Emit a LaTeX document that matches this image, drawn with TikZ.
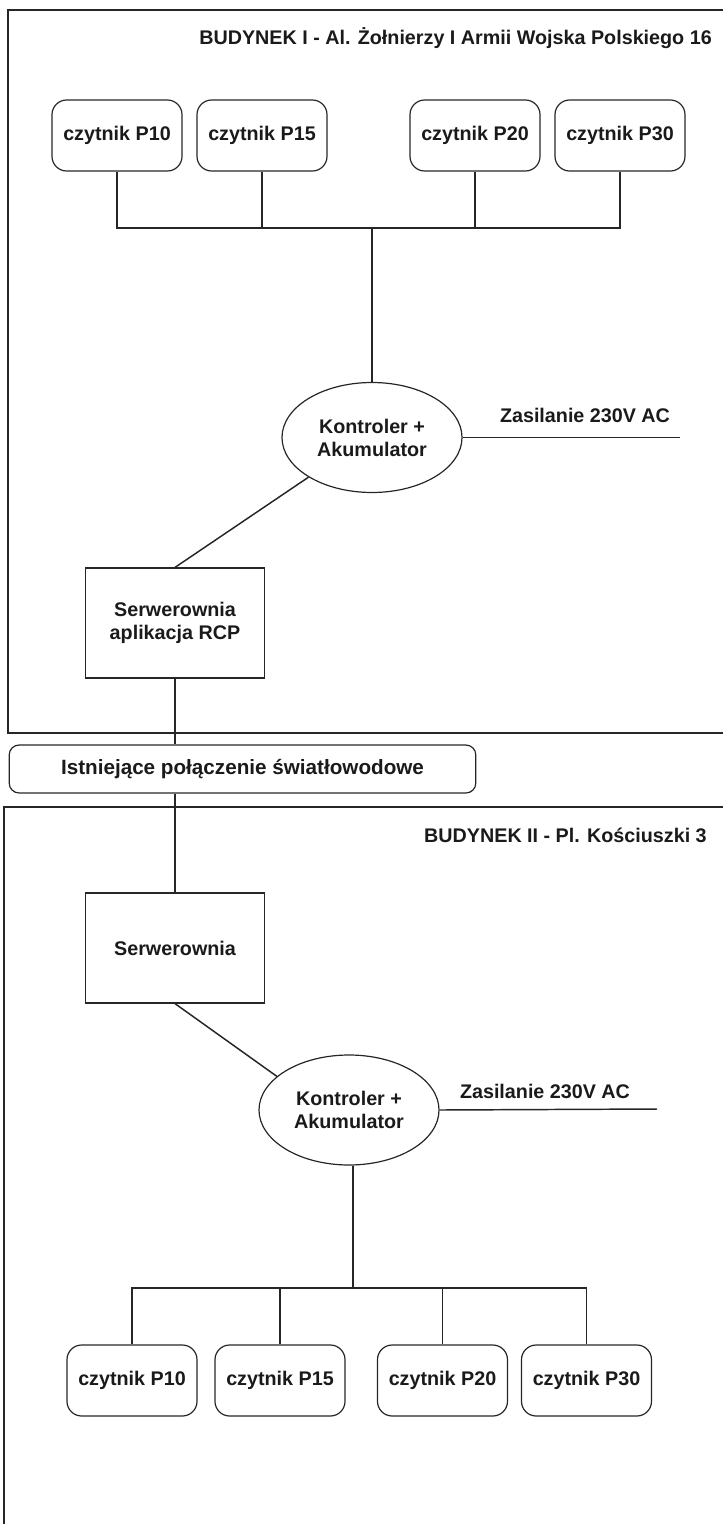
\documentclass[tikz,border=0pt]{standalone}
\usepackage{fontspec}
\setmainfont{Liberation Sans}
\usepackage{xcolor}
\usepackage{tikz}
\usetikzlibrary{shapes.geometric}
\definecolor{linecolor}{HTML}{262626}
\definecolor{textcolor}{HTML}{1A1A1A}
\tikzset{
  reader/.style={
    rectangle,
    rounded corners=11pt,
    draw=linecolor,
    line width=0.9pt,
    minimum width=97.5pt,
    minimum height=53.25pt,
    inner sep=0pt,
    font=\fontsize{14.8pt}{17.25pt}\selectfont\bfseries,
    text=textcolor
  },
  controller/.style={
    ellipse,
    draw=linecolor,
    line width=0.9pt,
    minimum width=135pt,
    minimum height=82.5pt,
    inner sep=0pt,
    align=center,
    font=\fontsize{14.8pt}{17.25pt}\selectfont\bfseries,
    text=textcolor
  },
  serverbox/.style={
    rectangle,
    draw=linecolor,
    line width=0.9pt,
    minimum width=134pt,
    minimum height=82.5pt,
    inner sep=0pt,
    align=center,
    font=\fontsize{14.8pt}{17.25pt}\selectfont\bfseries,
    text=textcolor
  },
  fiber/.style={
    rectangle,
    rounded corners=7.5pt,
    draw=linecolor,
    line width=0.9pt,
    minimum width=350pt,
    minimum height=36pt,
    inner sep=0pt,
    font=\fontsize{15.5pt}{17.25pt}\selectfont\bfseries,
    text=textcolor
  },
  label text/.style={
    inner sep=0pt,
    font=\fontsize{14.8pt}{17.25pt}\selectfont\bfseries,
    text=textcolor
  },
  wire/.style={
    draw=linecolor,
    line width=1.1pt
  },
  frame/.style={
    draw=linecolor,
    line width=1.5pt
  }
}

\begin{document}
\begin{tikzpicture}[x=0.75pt,y=-0.75pt]
  \useasboundingbox (0,0) rectangle (722,1524);

  % budynki
  \draw[frame] (726,10) -- (8,10) -- (8,733) -- (726,733);
  \draw[frame] (726,807) -- (4,807) -- (4,1528);
  \node[label text,anchor=east] (T-1) at (712,38) {BUDYNEK I - Al. Żołnierzy I Armii Wojska Polskiego 16};
  \node[label text,anchor=east] (T-2) at (707,835) {BUDYNEK II - Pl. Kościuszki 3};

  % budynek I
  \node[reader] (R1-10) at (117,135.5) {czytnik P10};
  \node[reader] (R1-15) at (262,135.5) {czytnik P15};
  \node[reader] (R1-20) at (475,135.5) {czytnik P20};
  \node[reader] (R1-30) at (620,135.5) {czytnik P30};
  \coordinate (B-1) at (372,228);

  \node[controller] (K-1) at (372,437.5) {Kontroler +\\Akumulator};
  \coordinate (P-1) at (680,437.5);
  \node[label text] (Z-1) at (585,415) {Zasilanie 230V AC};

  \node[serverbox] (S-1) at (175,623) {Serwerownia\\aplikacja RCP};

  \node[fiber] (F) at (242.5,769) {Istniejące połączenie światłowodowe};

  % budynek II
  \node[serverbox] (S-2) at (175,948) {Serwerownia};

  \node[controller] (K-2) at (349,1110) {Kontroler +\\Akumulator};
  \coordinate (P-2) at (657,1109);
  \node[label text] (Z-2) at (545,1091) {Zasilanie 230V AC};

  \coordinate (B-2) at (353,1288);
  \node[reader] (R2-10) at (132,1380.5) {czytnik P10};
  \node[reader] (R2-15) at (280,1380.5) {czytnik P15};
  \node[reader] (R2-20) at (442.5,1380.5) {czytnik P20};
  \node[reader] (R2-30) at (586.5,1380.5) {czytnik P30};

  % polaczenia
  \foreach \r in {10,15,20,30}{
    \draw[wire] (R1-\r.south) |- (B-1);
    \draw[wire] (R2-\r.north) |- (B-2);
  }
  \draw[wire] (B-1) -- (K-1.north);
  \draw[wire] (K-1.east) -- (P-1);
  \draw[wire] (K-1.212) -- (S-1.north);
  \draw[wire] (S-1.south) -- (S-1.south |- F.north);
  \draw[wire] (S-2.north |- F.south) -- (S-2.north);
  \draw[wire] (S-2.south) -- (K-2.155);
  \draw[wire] (K-2.east) -- (P-2);
  \draw[wire] (K-2.south -| B-2) -- (B-2);
\end{tikzpicture}
\end{document}
